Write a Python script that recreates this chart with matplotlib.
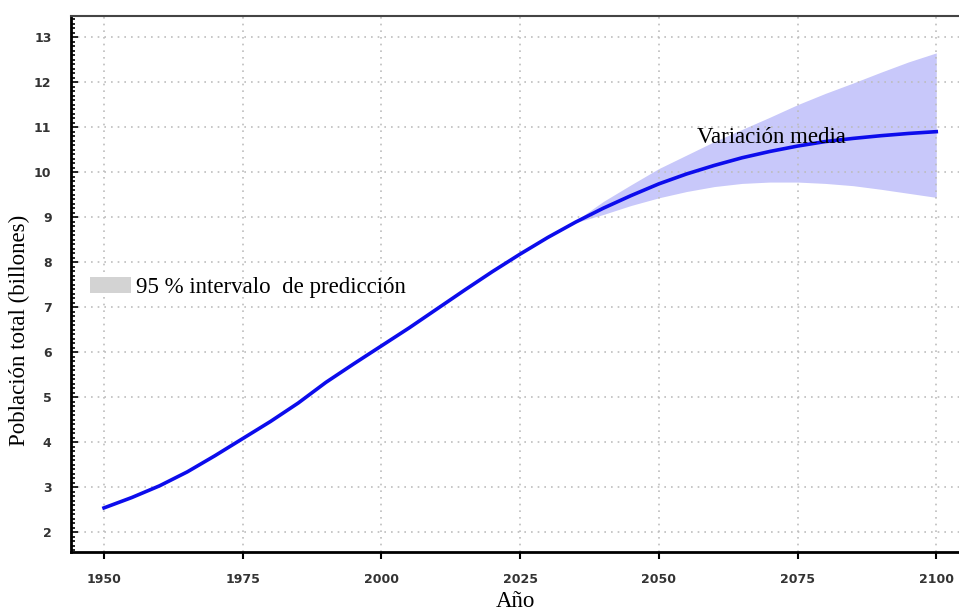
import numpy as np
import matplotlib.pyplot as plt
from matplotlib.patches import Patch
from matplotlib.ticker import MultipleLocator

# mean projection (billions), every 5 years
years = [1950, 1955, 1960, 1965, 1970, 1975, 1980, 1985, 1990, 1995, 2000,
         2005, 2010, 2015, 2020, 2025, 2030, 2035, 2040, 2045, 2050, 2055,
         2060, 2065, 2070, 2075, 2080, 2085, 2090, 2095, 2100]
pop = [2.54, 2.77, 3.03, 3.34, 3.70, 4.08, 4.46, 4.87, 5.33, 5.74, 6.14,
       6.54, 6.96, 7.38, 7.79, 8.18, 8.55, 8.89, 9.20, 9.48, 9.74, 9.96,
       10.15, 10.32, 10.46, 10.58, 10.68, 10.75, 10.81, 10.86, 10.90]

# 95 % prediction interval
band_years = [2035, 2040, 2045, 2050, 2055, 2060, 2065, 2070, 2075, 2080,
              2085, 2090, 2095, 2100]
band_low = [8.88, 9.06, 9.26, 9.43, 9.57, 9.68, 9.75, 9.78, 9.78, 9.75,
            9.70, 9.62, 9.53, 9.44]
band_high = [8.92, 9.35, 9.72, 10.08, 10.38, 10.68, 10.95, 11.22, 11.50,
             11.75, 11.98, 12.22, 12.45, 12.65]

fig = plt.figure(figsize=(9.59, 6.16), dpi=100)
ax = fig.add_axes([71/959, 64/616, 888/959, 536/616])

ax.fill_between(band_years, band_low, band_high, color='#c8c8fa', lw=0)
ax.plot(years, pop, color='#0c0cec', lw=2.6)

ax.set_xlim(1944.05, 2104.1)
ax.set_ylim(1.56, 13.47)
ax.set_xticks(np.arange(1950, 2101, 25))
ax.set_yticks(np.arange(2, 14, 1))
ax.yaxis.set_minor_locator(MultipleLocator(0.1))
ax.grid(True, which='major', ls=(0, (1, 3)), color='#bdbdbd', lw=1.2)

ax.tick_params(axis='x', direction='out', length=5, width=1.5, pad=10,
               labelsize=9, labelcolor='#333333')
ax.tick_params(axis='y', which='major', direction='in', length=5, width=1.2,
               pad=14, labelsize=9, labelcolor='#333333')
ax.tick_params(axis='y', which='minor', direction='in', length=3, width=1.2)
for lab in ax.get_xticklabels() + ax.get_yticklabels():
    lab.set_fontweight('bold')

ax.spines['right'].set_visible(False)
ax.spines['left'].set_linewidth(2)
ax.spines['bottom'].set_linewidth(2)
ax.spines['top'].set_linewidth(1.5)
ax.spines['top'].set_color('#444444')

serif = 'Liberation Serif'
ax.set_ylabel('Población total (billones)', fontsize=16.5, family=serif)
ax.yaxis.set_label_coords(-0.046, 0.414)
ax.set_xlabel('Año', fontsize=16.5, family=serif, labelpad=4)

ax.text(2056.9, 10.76, 'Variación media', fontsize=16.5, family=serif,
        ha='left', va='center')

handle = Patch(facecolor='#d3d3d3', edgecolor='none',
               label='95 % intervalo  de predicción')
ax.legend(handles=[handle], loc='center left', bbox_to_anchor=(0.0214, 0.494),
          frameon=False, borderpad=0, borderaxespad=0, handlelength=1.8,
          handleheight=0.75, handletextpad=0.2,
          prop={'family': serif, 'size': 16.5})

fig.savefig('out.png', dpi=100)
